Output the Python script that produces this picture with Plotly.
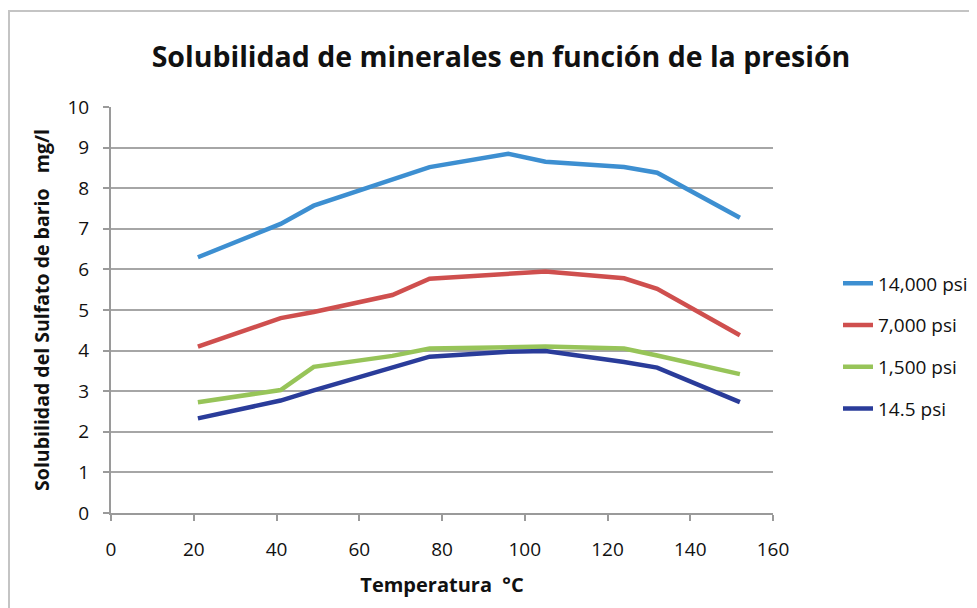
import plotly.graph_objects as go

temperatura = [21, 41, 49, 68, 77, 96, 105, 124, 132, 152]
psi_14000 = [6.30, 7.12, 7.57, 8.20, 8.52, 8.85, 8.65, 8.52, 8.38, 7.27]
psi_7000 = [4.10, 4.80, 4.95, 5.37, 5.77, 5.90, 5.95, 5.78, 5.52, 4.38]
psi_1500 = [2.73, 3.03, 3.60, 3.87, 4.05, 4.10, 4.10, 4.05, 3.88, 3.42]
psi_14_5 = [2.33, 2.77, 3.02, 3.57, 3.85, 3.97, 3.99, 3.72, 3.58, 2.73]

series = [
    ("14,000 psi", psi_14000, "#3d8fd1"),
    ("7,000 psi", psi_7000, "#cf4f4e"),
    ("1,500 psi", psi_1500, "#97c459"),
    ("14.5 psi", psi_14_5, "#2a3c9a"),
]

x_ticks = [0, 20, 40, 60, 80, 100, 120, 140, 160]
y_ticks = [0, 1, 2, 3, 4, 5, 6, 7, 8, 9, 10]

fig = go.Figure()
for name, vals, col in series:
    fig.add_trace(go.Scatter(
        x=temperatura, y=vals, name=name, mode="lines",
        legendgroup=name,
        line=dict(color=col, width=4.5),
    ))

font_family = "Open Sans, Liberation Sans, Arial, sans-serif"
# the page body adds an 8px offset; figure coords = screen coords - 8
OFF = 8
L, R, T, B = 111 - OFF, 977 - (773 - OFF), 107 - OFF, 608 - (513 - OFF)
W, H = 977, 608
pw, ph = W - L - R, H - T - B

fig.update_layout(
    width=W, height=H,
    margin=dict(l=L, r=R, t=T, b=B, autoexpand=False),
    paper_bgcolor="white", plot_bgcolor="white",
    font=dict(family=font_family, color="#222222", size=16),
    title=dict(
        text="<b>Solubilidad de minerales en función de la presión</b>",
        x=(501 - OFF - L) / pw, xref="paper", xanchor="center",
        y=1 - (57 - OFF) / H, yanchor="middle",
        font=dict(size=28.5, color="#111111"),
    ),
    showlegend=True,
    legend=dict(
        x=(838 - OFF - L) / pw, xanchor="left",
        y=(T + ph - (346 - OFF)) / ph, yanchor="middle",
        traceorder="grouped", tracegroupgap=14,
        font=dict(size=19, color="#111111"),
        bgcolor="rgba(0,0,0,0)",
    ),
    xaxis=dict(
        range=[0, 160], tickvals=x_ticks, ticktext=[str(v) for v in x_ticks],
        showgrid=False, zeroline=False, automargin=False,
        showline=True, linecolor="#9a9a9a", linewidth=2,
        ticks="outside", ticklen=6, tickwidth=2, tickcolor="#9a9a9a",
        ticklabelstandoff=12,
        tickfont=dict(size=19, color="#111111"),
        title=dict(text="<b>Temperatura  °C</b>", font=dict(size=20, color="#111111"), standoff=17),
    ),
    yaxis=dict(
        range=[0, 10], tickvals=y_ticks, ticktext=[str(v) for v in y_ticks],
        showgrid=True, gridcolor="#a6a6a6", gridwidth=2,
        zeroline=False, automargin=False,
        showline=True, linecolor="#9a9a9a", linewidth=2,
        ticks="outside", ticklen=6, tickwidth=2, tickcolor="#9a9a9a",
        ticklabelstandoff=10,
        tickfont=dict(size=19, color="#111111"),
        title=dict(text="<b>Solubilidad del Sulfato de bario   mg/l</b>", font=dict(size=19.5, color="#111111"), standoff=13),
    ),
)

# outer chart border
fig.add_shape(
    type="rect", xref="paper", yref="paper",
    x0=(1 - L) / pw, x1=(W + 5 - L) / pw,
    y0=(T + ph - (H + 5)) / ph, y1=(T + ph - 3) / ph,
    line=dict(color="#c4c4c4", width=2), fillcolor="rgba(0,0,0,0)", layer="below",
)

fig.write_html("out.html")
